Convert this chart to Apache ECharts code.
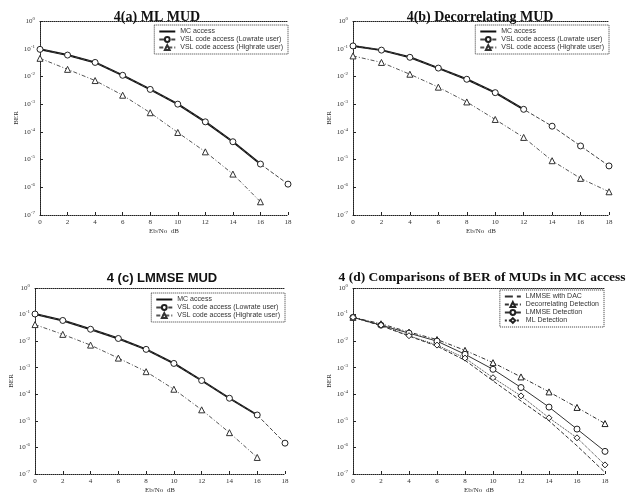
<!DOCTYPE html>
<html><head><meta charset="utf-8">
<script src="https://cdn.jsdelivr.net/npm/echarts@6/dist/echarts.min.js"></script>
<style>html,body{margin:0;padding:0;background:#fff}#c{width:633px;height:495px}</style>
</head><body><div id="c"></div>
<script>
const snr = [0, 2, 4, 6, 8, 10, 12, 14, 16, 18];
const xTicks = ['0','2','4','6','8','10','12','14','16','18'];
const yTicks = ['10^0','10^-1','10^-2','10^-3','10^-4','10^-5','10^-6','10^-7'];

const titles = ['4(a) ML MUD', '4(b) Decorrelating MUD', '4 (c) LMMSE MUD', '4 (d) Comparisons of BER of MUDs in MC access'];
const namesABC = ['MC access', 'VSL code access (Lowrate user)', 'VSL code access (Highrate user)'];
const namesD = ['LMMSE with DAC', 'Decorrelating Detection', 'LMMSE Detection', 'ML Detection'];

// (a) ML MUD
const a_mc   = [9.5e-2, 5.9e-2, 3.2e-2, 1.1e-2, 3.4e-3, 1.0e-3, 2.3e-4, 4.4e-5, 6.9e-6];
const a_low  = [9.5e-2, 5.9e-2, 3.2e-2, 1.1e-2, 3.4e-3, 1.0e-3, 2.3e-4, 4.4e-5, 6.9e-6, 1.3e-6];
const a_high = [4.5e-2, 1.8e-2, 7.1e-3, 2.1e-3, 4.9e-4, 9.5e-5, 1.9e-5, 3.0e-6, 3.0e-7];
// (b) Decorrelating MUD
const b_mc   = [1.26e-1, 8.9e-2, 4.9e-2, 2.0e-2, 7.9e-3, 2.6e-3, 6.5e-4];
const b_low  = [1.26e-1, 8.9e-2, 4.9e-2, 2.0e-2, 7.9e-3, 2.6e-3, 6.5e-4, 1.6e-4, 3.1e-5, 5.9e-6];
const b_high = [5.5e-2, 3.2e-2, 1.2e-2, 4.1e-3, 1.2e-3, 2.8e-4, 6.3e-5, 9.1e-6, 2.1e-6, 6.9e-7];
// (c) LMMSE MUD
const c_mc   = [1.05e-1, 6.0e-2, 2.8e-2, 1.26e-2, 4.9e-3, 1.45e-3, 3.3e-4, 7.1e-5, 1.66e-5];
const c_low  = [1.05e-1, 6.0e-2, 2.8e-2, 1.26e-2, 4.9e-3, 1.45e-3, 3.3e-4, 7.1e-5, 1.66e-5, 1.45e-6];
const c_high = [4.2e-2, 1.8e-2, 7.1e-3, 2.3e-3, 7.1e-4, 1.55e-4, 2.6e-5, 3.6e-6, 4.2e-7];
// (d) comparison
const d_dac   = [7.9e-2, 3.8e-2, 1.55e-2, 6.5e-3, 1.9e-3, 3.2e-4, 5.6e-5, 1.0e-5, 1.15e-6, 1.15e-7];
const d_dec   = [7.9e-2, 4.5e-2, 2.2e-2, 1.15e-2, 4.5e-3, 1.55e-3, 4.5e-4, 1.23e-4, 3.2e-5, 7.9e-6];
const d_lmmse = [7.9e-2, 4.0e-2, 2.0e-2, 1.0e-2, 3.2e-3, 8.7e-4, 1.8e-4, 3.3e-5, 4.9e-6, 7.1e-7];
const d_ml    = [7.9e-2, 4.0e-2, 1.6e-2, 7.1e-3, 2.3e-3, 4.2e-4, 8.7e-5, 1.3e-5, 2.3e-6, 2.2e-7];

const grids = [
  {left: 40, top: 21, width: 248, height: 194},
  {left: 353, top: 21, width: 256, height: 194},
  {left: 35, top: 288, width: 250, height: 187},
  {left: 353, top: 288, width: 252, height: 187}
];
const frame = {show: true, lineStyle: {color: '#222', width: 1, type: 'dotted'}};
const xAxes = [], yAxes = [];
grids.forEach((g, i) => {
  xAxes.push({gridIndex: i, type: 'value', min: 0, max: 18, interval: 2,
    axisLine: frame, axisTick: {inside: true, length: 3, lineStyle: {color: '#222'}},
    splitLine: {show: false},
    axisLabel: {fontSize: 7, color: '#333', margin: 4, fontFamily: 'Liberation Serif',
      formatter: v => xTicks[v / 2]},
    name: 'Eb/No  dB', nameLocation: 'middle', nameGap: 13,
    nameTextStyle: {fontSize: 7, color: '#333', fontFamily: 'Liberation Serif'}});
  xAxes.push({gridIndex: i, type: 'value', min: 0, max: 18, position: 'top',
    axisLine: frame, axisTick: {show: false}, axisLabel: {show: false}, splitLine: {show: false}});
  yAxes.push({gridIndex: i, type: 'log', logBase: 10, min: 1e-7, max: 1,
    axisLine: frame, axisTick: {inside: true, length: 3, lineStyle: {color: '#222'}},
    splitLine: {show: false}, minorTick: {show: false},
    axisLabel: {fontSize: 7, color: '#333', margin: 5, fontFamily: 'Liberation Serif',
      formatter: v => {
        const e = Math.round(Math.log10(v));
        const t = yTicks[-e] || ('10^' + e);
        const p = t.split('^');
        return p[0] + '{s|' + p[1] + '}';
      },
      rich: {s: {fontSize: 5, verticalAlign: 'top', padding: [0, 0, 5, 0], color: '#333'}}},
    name: 'BER', nameLocation: 'middle', nameGap: 20,
    nameTextStyle: {fontSize: 7, color: '#333', fontFamily: 'Liberation Serif'}});
  yAxes.push({gridIndex: i, type: 'log', logBase: 10, min: 1e-7, max: 1, position: 'right',
    axisLine: frame, axisTick: {show: false}, axisLabel: {show: false}, splitLine: {show: false}});
});

function pairs(vals) { return vals.map((v, k) => [snr[k], v]); }
function mcSeries(name, vals, gi) {
  return {name, type: 'line', xAxisIndex: gi * 2, yAxisIndex: gi * 2, data: pairs(vals),
    symbol: 'none', lineStyle: {color: '#111', width: 2}, itemStyle: {color: '#111'}, z: 3};
}
function lowSeries(name, vals, gi) {
  return {name, type: 'line', xAxisIndex: gi * 2, yAxisIndex: gi * 2, data: pairs(vals),
    symbol: 'circle', symbolSize: 6, lineStyle: {color: '#444', width: 1, type: 'dashed'},
    itemStyle: {color: '#fff', borderColor: '#222', borderWidth: 1}};
}
function highSeries(name, vals, gi) {
  return {name, type: 'line', xAxisIndex: gi * 2, yAxisIndex: gi * 2, data: pairs(vals),
    symbol: 'triangle', symbolSize: 6, lineStyle: {color: '#555', width: 1, type: [4, 2, 1, 2]},
    itemStyle: {color: '#fff', borderColor: '#333', borderWidth: 1}};
}
function dSeries(name, vals, sym, dash) {
  return {name, type: 'line', xAxisIndex: 6, yAxisIndex: 6, data: pairs(vals),
    symbol: sym, symbolSize: 6, lineStyle: {color: '#333', width: 1, type: dash},
    itemStyle: {color: '#fff', borderColor: '#222', borderWidth: 1}};
}

const series = [
  mcSeries(namesABC[0], a_mc, 0), lowSeries(namesABC[1], a_low, 0), highSeries(namesABC[2], a_high, 0),
  mcSeries(namesABC[0], b_mc, 1), lowSeries(namesABC[1], b_low, 1), highSeries(namesABC[2], b_high, 1),
  mcSeries(namesABC[0], c_mc, 2), lowSeries(namesABC[1], c_low, 2), highSeries(namesABC[2], c_high, 2),
  dSeries(namesD[0], d_dac, 'none', 'dashed'),
  dSeries(namesD[1], d_dec, 'triangle', [4, 2, 1, 2]),
  dSeries(namesD[2], d_lmmse, 'circle', 'solid'),
  dSeries(namesD[3], d_ml, 'diamond', 'dotted')
];

const noMark = {color: 'rgba(0,0,0,0)', borderColor: 'rgba(0,0,0,0)', borderWidth: 0};
const legABC = namesABC.map((n, k) => k === 0 ? {name: n, itemStyle: noMark} : {name: n});
const legD = namesD.map((n, k) => k === 0 ? {name: n, itemStyle: noMark} : {name: n});

const legendBase = {orient: 'vertical', itemGap: 1, itemWidth: 16, itemHeight: 6,
  backgroundColor: '#fff', borderColor: '#333', borderWidth: 1, borderType: 'dotted',
  padding: [3, 5, 3, 4], textStyle: {fontSize: 7, color: '#333', fontFamily: 'Liberation Sans'},
  selectedMode: false};
const legends = [
  Object.assign({}, legendBase, {data: legABC, right: 345, top: 25}),
  Object.assign({}, legendBase, {data: legABC, right: 24, top: 25}),
  Object.assign({}, legendBase, {data: legABC, right: 348, top: 293}),
  Object.assign({}, legendBase, {data: legD, right: 29, top: 290})
];

const titleCfg = [
  {text: titles[0], left: 152, top: 5, size: 14, font: 'Liberation Serif'},
  {text: titles[1], left: 475, top: 5, size: 14, font: 'Liberation Serif'},
  {text: titles[2], left: 157, top: 267, size: 13, font: 'Liberation Sans'},
  {text: titles[3], left: 477, top: 266, size: 13.5, font: 'Liberation Serif'}
];

const chart = echarts.init(document.getElementById('c'), null, {renderer: 'canvas'});
chart.setOption({
  animation: false,
  backgroundColor: '#fff',
  title: titleCfg.map(t => ({text: t.text, left: t.left, top: t.top, textAlign: 'center',
    textStyle: {fontSize: t.size, fontWeight: 'bold', color: '#111', fontFamily: t.font}})),
  grid: grids,
  xAxis: xAxes,
  yAxis: yAxes,
  legend: legends,
  series
});
</script></body></html>
